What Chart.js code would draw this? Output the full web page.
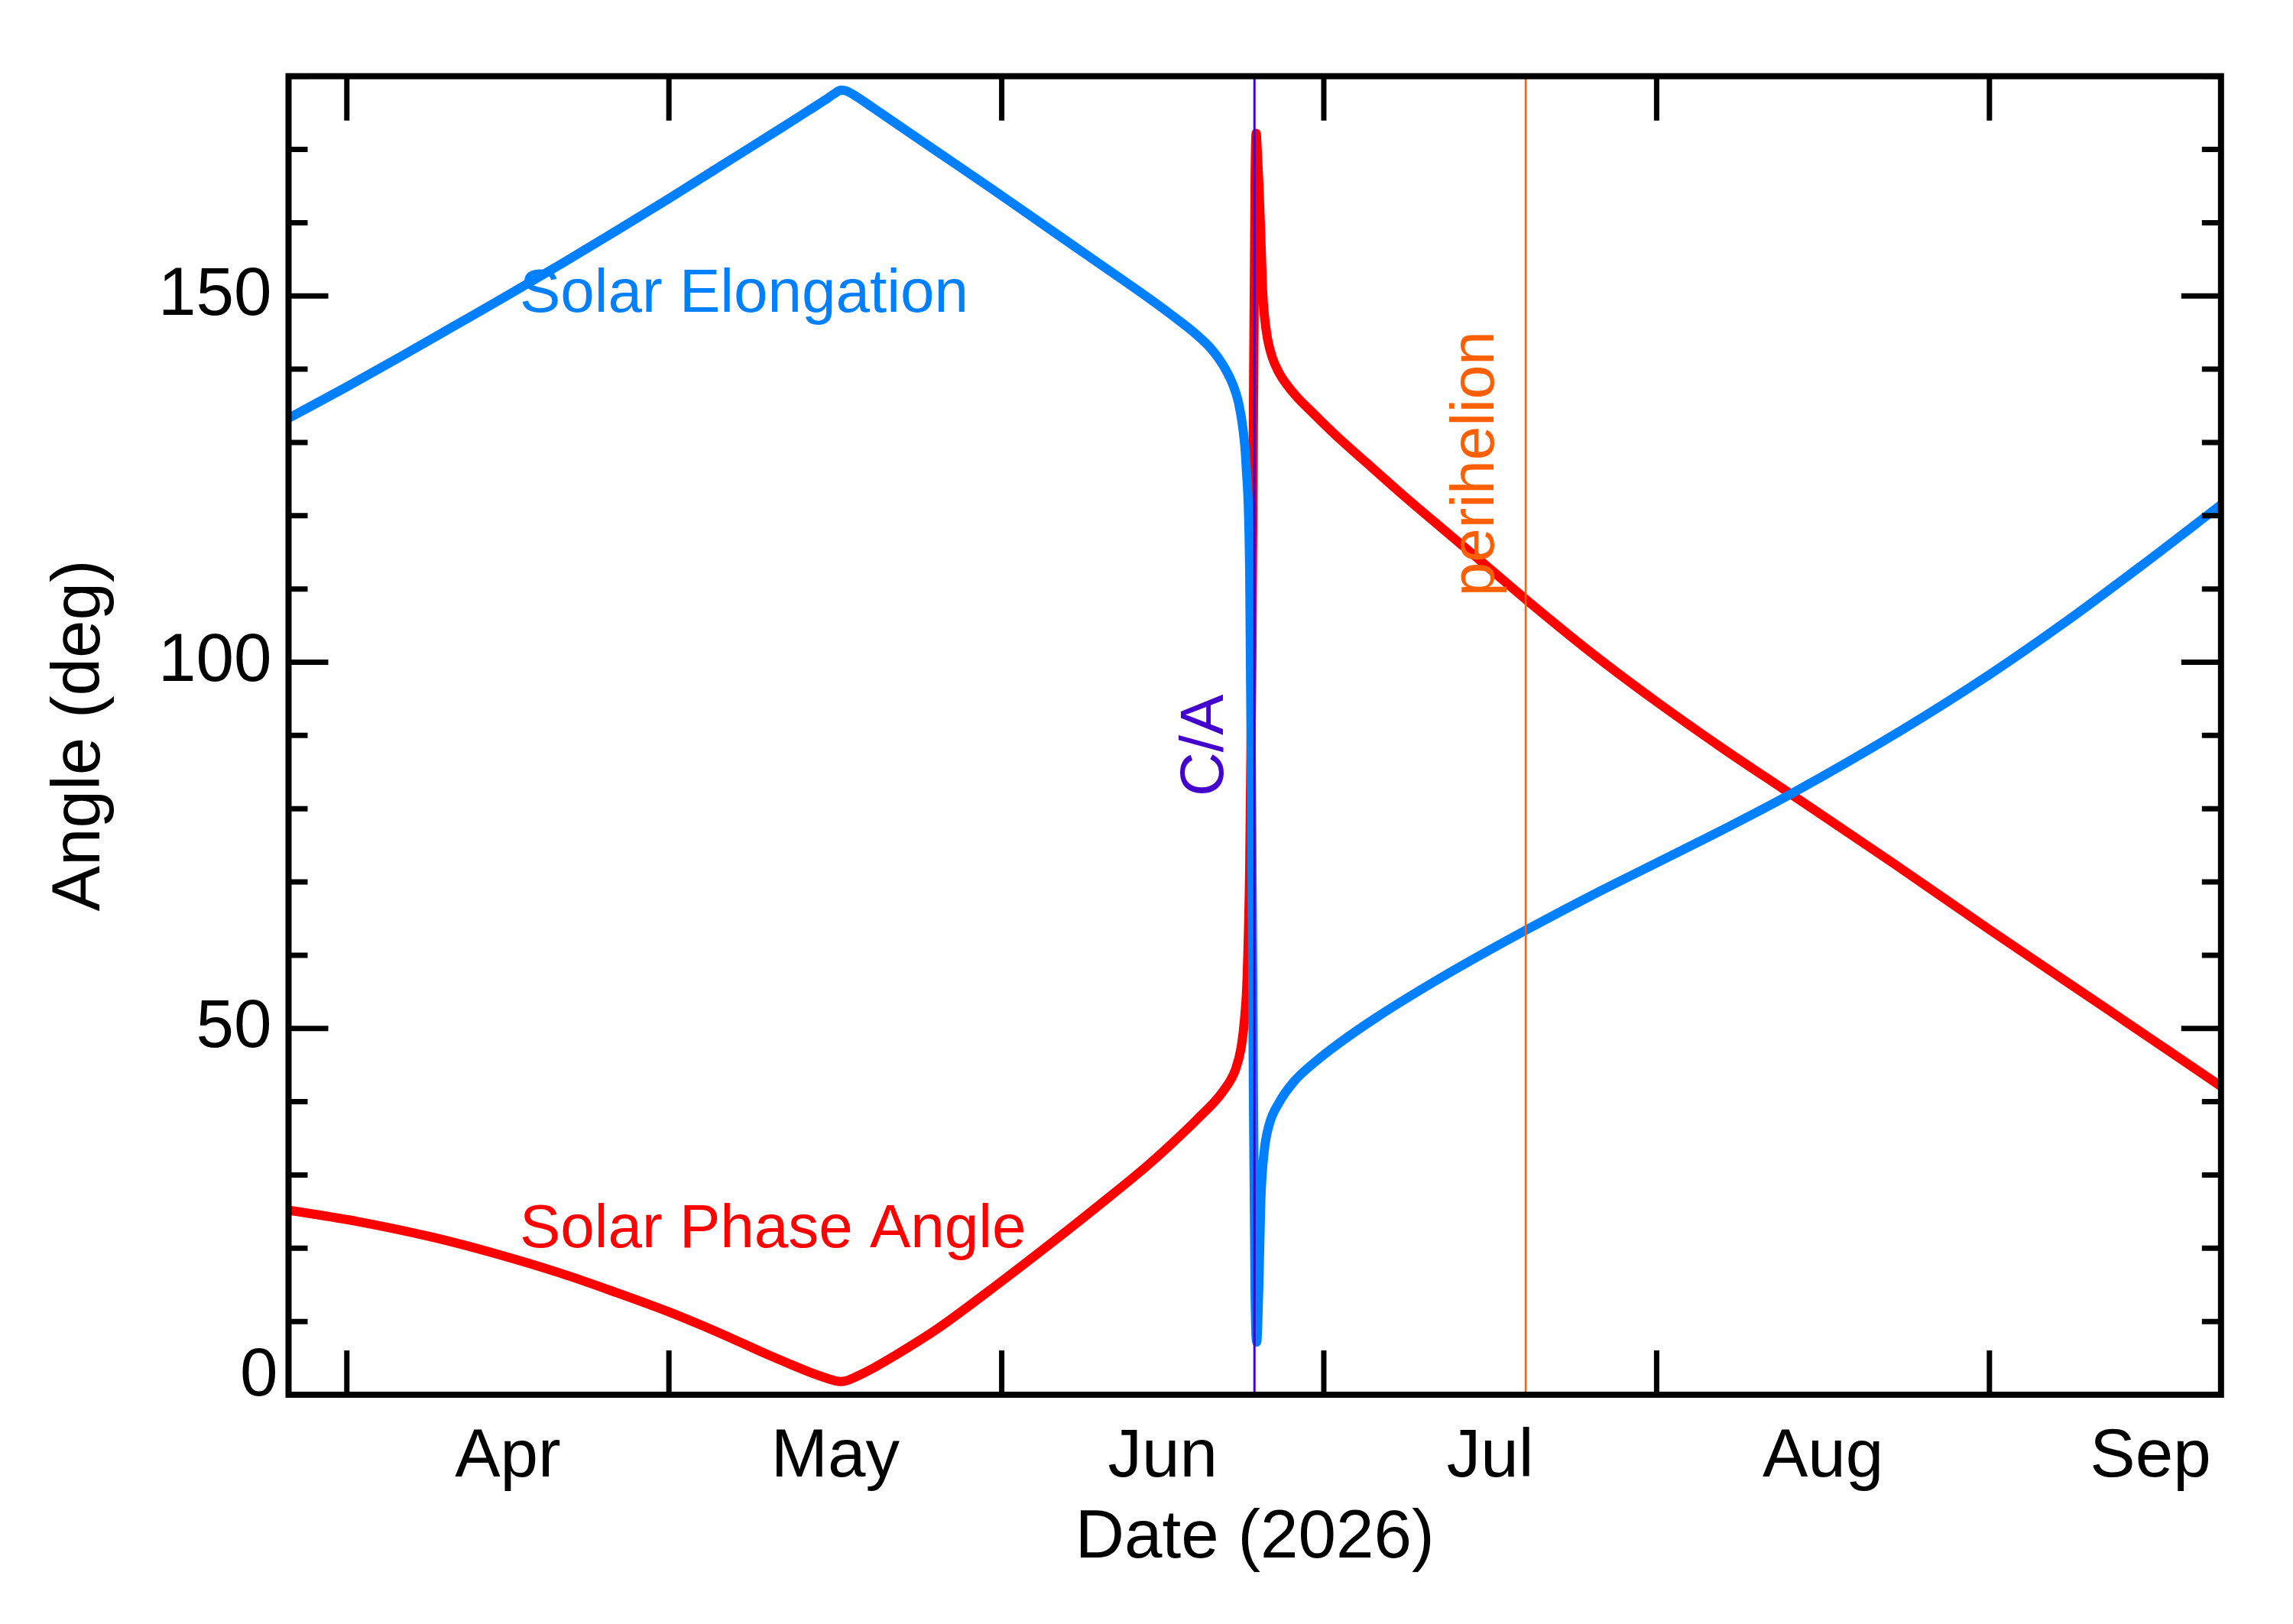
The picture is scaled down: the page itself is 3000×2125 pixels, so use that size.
<!DOCTYPE html>
<html>
<head>
<meta charset="utf-8">
<title>Solar Elongation and Phase Angle (2026)</title>
<script src="https://cdn.jsdelivr.net/npm/chart.js@4.4.1/dist/chart.umd.min.js"></script>
<style>
    html, body { margin: 0; padding: 0; background: #ffffff; }
    canvas { display: block; }
</style>
</head>
<body>
<canvas id="angleChart" width="3000" height="2125"></canvas>
<script>
// x values are day of year 2026 (Jan 1 = 0)
const monthStarts = [90, 120, 151, 181, 212, 243, 273];
const monthNames = ['Apr', 'May', 'Jun', 'Jul', 'Aug', 'Sep'];
const angleLabels = [0, 50, 100, 150];
const closeApproachDay = 174.54;
const perihelionDay = 199.8;

const elongDays = [84.57, 90, 95, 100, 105, 110, 115, 120, 125, 130,
    133, 134.5, 135.5, 136, 136.5, 137.5, 139, 140, 145, 150,
    155, 160, 164.5, 167, 169, 170.5, 171.6, 172.5, 173.05, 173.5,
    173.76, 174.1, 174.3, 174.45, 174.6, 174.75, 174.95, 175.13, 175.44, 175.9,
    176.8, 178.25, 180, 182.3, 185.9, 192, 199.8, 206, 212, 218,
    224.5, 234.8, 243, 250, 257, 264.57];
const elongValues = [133.3, 137.6, 141.7, 145.9, 150.1, 154.4, 158.8, 163.3, 167.9, 172.5,
    175.3, 176.7, 177.7, 178.1, 178.0, 177.2, 175.7, 174.7, 169.7, 164.7,
    159.6, 154.5, 149.9, 147.2, 144.9, 142.8, 140.6, 138.0, 135.5, 131.5,
    127.0, 112.0, 75, 40, 14, 7.2, 15, 26.4, 33.1, 36.8,
    39.8, 42.8, 45.2, 47.85, 51.5, 57.0, 63.4, 68.2, 72.6, 77.0,
    82.0, 90.7, 98.3, 105.4, 113.0, 121.5];

const phaseDays = [84.57, 91, 98, 104, 110, 115, 120, 125, 129, 131,
    133, 134.5, 135.5, 136, 136.5, 137.5, 139, 141, 145, 151,
    155, 160, 164.5, 167, 169.2, 171.6, 172.8, 173.3, 173.6, 173.86,
    174.1, 174.3, 174.45, 174.6, 174.7, 174.8, 174.97, 175.14, 175.3, 175.47,
    175.75, 176.2, 176.8, 177.5, 178.5, 180, 182.1, 185, 188, 192,
    195, 199.8, 206, 212, 218, 224.5, 234, 243, 254, 264.57];
const phaseValues = [25.2, 23.65, 21.5, 19.2, 16.55, 14.0, 11.3, 8.25, 5.6, 4.35,
    3.15, 2.35, 1.9, 1.8, 1.9, 2.5, 3.6, 5.3, 9.0, 15.5,
    20.0, 25.8, 31.2, 34.5, 37.6, 41.4, 44.5, 47.4, 51.0, 57,
    72, 100, 135, 166, 172.2, 169.9, 164.7, 157.7, 150.7, 147.3,
    144.2, 141.6, 139.6, 138.0, 136.2, 134.0, 131.0, 127.2, 123.3, 118.3,
    114.6, 108.6, 101.2, 94.6, 88.4, 82.0, 72.6, 63.5, 52.6, 42.1];

(() => {
    const chartEl = document.getElementById('angleChart');

    if (!chartEl || typeof Chart === 'undefined') {
        return;
    }

    const fontFamily = "'Liberation Sans', Arial, Helvetica, sans-serif";
    const tickFont = 89;
    const tickPadding = 14;
    const elongColor = '#0080ff';
    const phaseColor = '#ff0000';
    const caColor = '#4400cc';
    const periColor = '#ff5f00';

    Chart.defaults.font.family = fontFamily;
    Chart.defaults.color = '#000000';

    const toPoints = (days, values) => days.map((d, i) => ({ x: d, y: values[i] }));
    const monthMids = monthNames.map((_, i) => (monthStarts[i] + monthStarts[i + 1]) / 2);

    const notes = [
        { text: 'Solar Elongation', color: elongColor, day: 106.1, angle: 147.8, vertical: false },
        { text: 'Solar Phase Angle', color: phaseColor, day: 106.1, angle: 20.1, vertical: false },
        { text: 'C/A', color: caColor, day: 171.6, angle: 81.7, vertical: true },
        { text: 'perihelion', color: periColor, day: 196.8, angle: 109.0, vertical: true },
    ];

    // box, inward ticks and text labels, drawn over the curves
    const frame = {
        id: 'frame',
        afterDatasetsDraw(chart) {
            const { ctx, chartArea: a } = chart;
            const x = chart.scales.x;
            const y = chart.scales.y;

            ctx.save();
            ctx.font = `80px ${fontFamily}`;
            ctx.textAlign = 'left';
            ctx.textBaseline = 'alphabetic';
            notes.forEach((n) => {
                const px = x.getPixelForValue(n.day);
                const py = y.getPixelForValue(n.angle);
                ctx.fillStyle = n.color;
                ctx.save();
                ctx.translate(px, py);
                if (n.vertical) {
                    ctx.rotate(-Math.PI / 2);
                }
                ctx.fillText(n.text, 0, 0);
                ctx.restore();
            });

            // the bottom label sits on the axis instead of centred on it
            ctx.font = `${tickFont}px ${fontFamily}`;
            ctx.fillStyle = '#000000';
            ctx.textAlign = 'right';
            ctx.fillText(String(angleLabels[0]), a.left - tickPadding, y.getPixelForValue(angleLabels[0]) + 1);

            ctx.strokeStyle = '#000000';
            ctx.lineWidth = 7;
            ctx.beginPath();
            monthStarts.forEach((day) => {
                if (day <= x.min || day >= x.max) {
                    return;
                }
                const px = x.getPixelForValue(day);
                ctx.moveTo(px, a.bottom);
                ctx.lineTo(px, a.bottom - 58);
                ctx.moveTo(px, a.top);
                ctx.lineTo(px, a.top + 58);
            });
            y.ticks.forEach((tick) => {
                const py = y.getPixelForValue(tick.value);
                const len = angleLabels.includes(tick.value) ? 52 : 25;
                ctx.moveTo(a.left, py);
                ctx.lineTo(a.left + len, py);
                ctx.moveTo(a.right, py);
                ctx.lineTo(a.right - len, py);
            });
            ctx.stroke();

            ctx.lineWidth = 8;
            ctx.strokeRect(a.left, a.top, a.right - a.left, a.bottom - a.top);
            ctx.restore();
        },
    };

    new Chart(chartEl.getContext('2d'), {
        type: 'line',
        data: {
            datasets: [
                {
                    label: 'C/A',
                    data: [{ x: closeApproachDay, y: 0 }, { x: closeApproachDay, y: 180 }],
                    borderColor: caColor,
                    borderWidth: 3,
                },
                {
                    label: 'perihelion',
                    data: [{ x: perihelionDay, y: 0 }, { x: perihelionDay, y: 180 }],
                    borderColor: periColor,
                    borderWidth: 2.5,
                },
                {
                    label: 'Solar Elongation',
                    data: toPoints(elongDays, elongValues),
                    borderColor: elongColor,
                    borderWidth: 12,
                    cubicInterpolationMode: 'monotone',
                    borderJoinStyle: 'round',
                },
                {
                    label: 'Solar Phase Angle',
                    data: toPoints(phaseDays, phaseValues),
                    borderColor: phaseColor,
                    borderWidth: 12,
                    cubicInterpolationMode: 'monotone',
                    borderJoinStyle: 'round',
                },
            ],
        },
        options: {
            responsive: false,
            animation: false,
            devicePixelRatio: 1,
            layout: {
                padding: { top: 99.7, right: 94.2, bottom: 0, left: 0 },
            },
            elements: {
                point: { radius: 0 },
                line: { fill: false },
            },
            datasets: {
                line: { clip: 0 },
            },
            plugins: {
                legend: { display: false },
                tooltip: { enabled: false },
            },
            scales: {
                x: {
                    type: 'linear',
                    min: 84.57,
                    max: 264.57,
                    grid: { display: false },
                    border: { display: false },
                    afterBuildTicks: (scale) => {
                        scale.ticks = monthMids.map((v) => ({ value: v }));
                    },
                    afterFit: (scale) => {
                        scale.height = 300;
                    },
                    ticks: {
                        autoSkip: false,
                        maxRotation: 0,
                        padding: 21,
                        font: { size: tickFont },
                        callback: (value, index) => monthNames[index],
                    },
                    title: {
                        display: true,
                        text: 'Date (2026)',
                        font: { size: tickFont },
                        padding: { top: 0, bottom: 58 },
                    },
                },
                y: {
                    min: 0,
                    max: 180,
                    grid: { display: false },
                    border: { display: false },
                    afterFit: (scale) => {
                        scale.width = 377.5;
                    },
                    ticks: {
                        stepSize: 10,
                        autoSkip: false,
                        padding: tickPadding,
                        font: { size: tickFont },
                        callback: (value) => (value !== angleLabels[0] && angleLabels.includes(value) ? String(value) : ''),
                    },
                    title: {
                        display: true,
                        text: 'Angle (deg)',
                        font: { size: tickFont },
                        padding: { top: 52, bottom: 0 },
                    },
                },
            },
        },
        plugins: [frame],
    });
})();
</script>
</body>
</html>
